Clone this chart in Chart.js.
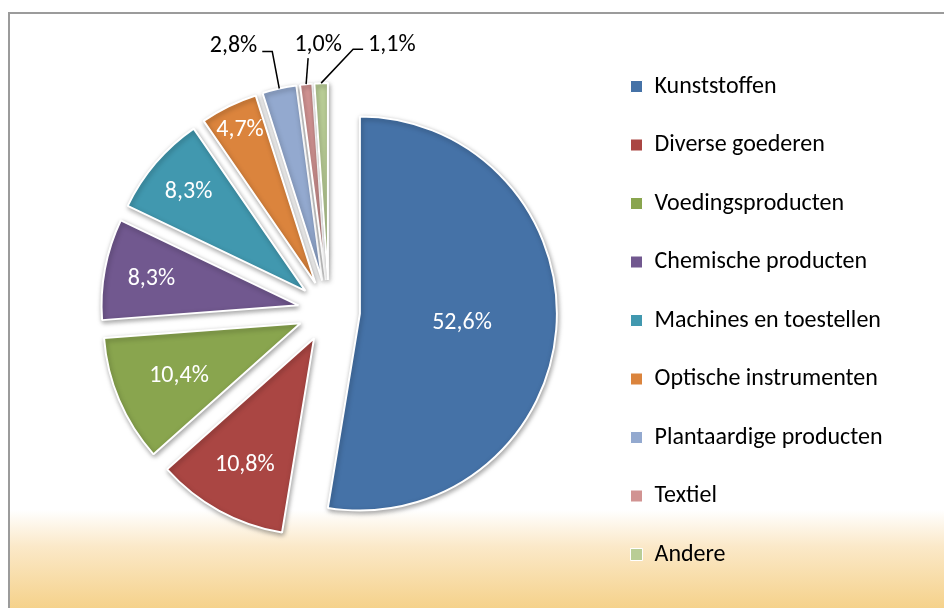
<!DOCTYPE html>
<html>
<head>
<meta charset="utf-8">
<script src="https://cdn.jsdelivr.net/npm/chart.js@4.4.1/dist/chart.umd.min.js"></script>
<style>
  html, body { margin: 0; padding: 0; background: #fff; }
  #frame {
    position: absolute; left: 8px; top: 12px; right: 0; bottom: 0;
    border-left: 2px solid #9b9b9b; border-top: 2px solid #9b9b9b;
    background: linear-gradient(to bottom, #fff 0px, #fff 496px, #fbe9c9 532px, #f5d189 596px);
  }
  #wrap { position: absolute; left: 0; top: 0; width: 944px; height: 608px; }
</style>
</head>
<body>
<div id="frame"></div>
<div id="wrap"><canvas id="pie" width="944" height="608"></canvas></div>
<script>
const categories = [
  "Kunststoffen", "Diverse goederen", "Voedingsproducten", "Chemische producten",
  "Machines en toestellen", "Optische instrumenten", "Plantaardige producten",
  "Textiel", "Andere"
];
const shares = [52.6, 10.8, 10.4, 8.3, 8.3, 4.7, 2.8, 1.0, 1.1];
const colors = [
  "#4572a7", "#aa4643", "#89a54e", "#71588f", "#4198af",
  "#db843d", "#93a9cf", "#d19392", "#b9cd96"
];

const FONT = "Carlito, Lato, sans-serif";
const FONT_SIZE = 24;
const RADIUS = 197;
const EXPLODE = 31;

// how deep the inside labels sit (fraction of radius), null = outside
const labelDepth = [0.52, 0.73, 0.67, 0.76, 0.78, 0.87, null, null, null];
// leader lines for the outside labels: elbow offset from the arc edge, tail length
const leaders = {
  6: { elbow: [-7, -37], tail: -10 },
  7: { elbow: [2, -26], tail: 0 },
  8: { elbow: [32, -34], tail: 10 }
};

function fmt(v) {
  return v.toFixed(1).replace(".", ",") + "%";
}

const explodePlugin = {
  id: "explode",
  beforeDatasetsDraw(chart) {
    const area = chart.chartArea;
    const cx = (area.left + area.right) / 2;
    const cy = (area.top + area.bottom) / 2;
    chart.getDatasetMeta(0).data.forEach(arc => {
      const mid = (arc.startAngle + arc.endAngle) / 2;
      arc.x = cx + EXPLODE * Math.cos(mid);
      arc.y = cy + EXPLODE * Math.sin(mid);
    });
    const ctx = chart.ctx;
    ctx.save();
    ctx.shadowColor = "rgba(0,0,0,0.35)";
    ctx.shadowBlur = 5;
    ctx.shadowOffsetX = 1;
    ctx.shadowOffsetY = 2;
  },
  afterDatasetsDraw(chart) {
    const ctx = chart.ctx;
    ctx.restore();
    ctx.save();
    ctx.font = FONT_SIZE + "px " + FONT;
    ctx.textBaseline = "middle";
    chart.getDatasetMeta(0).data.forEach((arc, i) => {
      const mid = (arc.startAngle + arc.endAngle) / 2;
      const cos = Math.cos(mid), sin = Math.sin(mid);
      const text = fmt(shares[i]);
      if (labelDepth[i] !== null) {
        const r = arc.outerRadius * labelDepth[i];
        ctx.fillStyle = "#fff";
        ctx.textAlign = "center";
        ctx.fillText(text, arc.x + r * cos, arc.y + r * sin + 1);
        return;
      }
      const lead = leaders[i];
      const ox = arc.x + arc.outerRadius * cos;
      const oy = arc.y + arc.outerRadius * sin;
      const ex = ox + lead.elbow[0];
      const ey = oy + lead.elbow[1];
      ctx.strokeStyle = "#000";
      ctx.lineWidth = 1.5;
      ctx.beginPath();
      ctx.moveTo(ox, oy);
      ctx.lineTo(ex, ey);
      ctx.lineTo(ex + lead.tail, ey);
      ctx.stroke();
      ctx.fillStyle = "#000";
      if (lead.tail < 0) {
        ctx.textAlign = "right";
        ctx.fillText(text, ex + lead.tail - 5, ey - 5);
      } else if (lead.tail > 0) {
        ctx.textAlign = "left";
        ctx.fillText(text, ex + lead.tail + 5, ey - 4);
      } else {
        ctx.textAlign = "center";
        ctx.fillText(text, ex + 10, ey - 13);
      }
    });
    ctx.restore();
  }
};

// legend width is measured so the pie and the legend land where they should
const LEGEND_PAD = 34.5;
const BOX = 12;
const measure = document.createElement("canvas").getContext("2d");
measure.font = FONT_SIZE + "px " + FONT;
const maxText = Math.max(...categories.map(c => measure.measureText(c).width));
const legendWidth = LEGEND_PAD + BOX + FONT_SIZE / 2 + maxText + 10;
const legendLeft = 596;
const padRight = 944 - legendLeft - legendWidth;
const pieCenterX = 329;
const padLeft = 2 * pieCenterX - legendLeft;

new Chart(document.getElementById("pie"), {
  type: "pie",
  data: {
    labels: categories,
    datasets: [{
      data: shares,
      backgroundColor: colors,
      borderColor: "#fff",
      borderWidth: 2
    }]
  },
  options: {
    responsive: false,
    animation: false,
    radius: RADIUS,
    layout: { padding: { left: padLeft, right: padRight, top: 14, bottom: 0 } },
    plugins: {
      tooltip: { enabled: false },
      legend: {
        position: "right",
        title: { display: true, text: "", padding: { top: 18, bottom: 0 }, font: { size: 1, lineHeight: 1 } },
        labels: {
          boxWidth: BOX,
          boxHeight: BOX,
          padding: LEGEND_PAD,
          color: "#000",
          font: { family: FONT, size: FONT_SIZE },
          generateLabels(chart) {
            const items = Chart.controllers.pie.overrides.plugins.legend.labels.generateLabels(chart);
            items.forEach(it => { it.lineWidth = 1; it.strokeStyle = "#fff"; });
            return items;
          }
        }
      }
    }
  },
  plugins: [explodePlugin]
});
</script>
</body>
</html>
